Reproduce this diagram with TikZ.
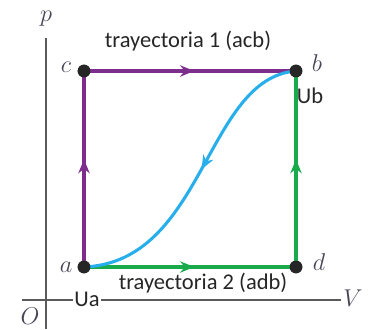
\documentclass[tikz,border=0pt]{standalone}
\usepackage{fontspec}
\newfontfamily\calib{Carlito}
\usepackage{tikz}
\usetikzlibrary{arrows.meta, positioning, decorations.markings}
\definecolor{pathpurple}{RGB}{125,45,140}
\definecolor{pathgreen}{RGB}{25,170,75}
\definecolor{pathblue}{RGB}{40,175,235}
\definecolor{axisgray}{RGB}{90,90,90}
\definecolor{lettergray}{RGB}{70,70,85}
\tikzset{
  statedot/.style={circle,fill=black!85,inner sep=0pt,minimum size=9pt},
  axisline/.style={draw=axisgray,line width=1pt},
  letterlab/.style={text=lettergray,font=\fontsize{19}{21}\selectfont},
  pathlab/.style={font=\calib\fontsize{16}{18}\selectfont,text=black!85},
  midarr/.style={decoration={markings,mark=at position #1 with {\arrow{Stealth[length=10pt,width=8pt]}}},postaction={decorate}},
  purplepath/.style={draw=pathpurple,line width=2.4pt},
  greenpath/.style={draw=pathgreen,line width=2.4pt},
  bluepath/.style={draw=pathblue,line width=2.2pt}
}

\begin{document}
\begin{tikzpicture}[x=0.025cm,y=-0.025cm]
  \useasboundingbox (0,0) rectangle (374,329);

  % axes
  \coordinate (ytop) at (46,38);
  \coordinate (ybot) at (46,329);
  \coordinate (xleft) at (22,300);
  \coordinate (xright) at (341,300);
  \draw[axisline] (ytop) -- (ybot);
  \draw[axisline] (xleft) -- (xright);
  \node[letterlab] (plab) at (46,19) {$p$};
  \node[letterlab] (vlab) at (353,298) {$V$};
  \node[letterlab] (olab) at (30,316) {$O$};

  % states
  \node[statedot] (a) at (84,267) {};
  \node[statedot] (c) at (84,71) {};
  \node[statedot] (b) at (296,71) {};
  \node[statedot] (d) at (296,267) {};

  % paths
  \draw[purplepath,midarr=0.55] (a.center) -- (c.center);
  \draw[purplepath,midarr=0.52] (c.center) -- (b.center);
  \draw[greenpath,midarr=0.52] (a.center) -- (d.center);
  \draw[greenpath,midarr=0.55] (d.center) -- (b.center);
  \draw[bluepath,midarr=0.47] (b.center) .. controls (205,78) and (205,262) .. (a.center);

  \node[statedot] at (a) {};
  \node[statedot] at (b) {};
  \node[statedot] at (c) {};
  \node[statedot] at (d) {};

  % labels
  \node[letterlab] (alab) at (66,267) {$a$};
  \node[letterlab] (clab) at (66,67) {$c$};
  \node[letterlab] (blab) at (317,63) {$b$};
  \node[letterlab] (dlab) at (319,262) {$d$};
  \node[pathlab] (ub) at (310,96) {Ub};
  \node[pathlab,fill=white,inner sep=1pt] (ua) at (87,299) {Ua};
  \node[pathlab] (tray1) at (188,41) {trayectoria 1 (acb)};
  \node[pathlab] (tray2) at (203,283) {trayectoria 2 (adb)};
\end{tikzpicture}
\end{document}
